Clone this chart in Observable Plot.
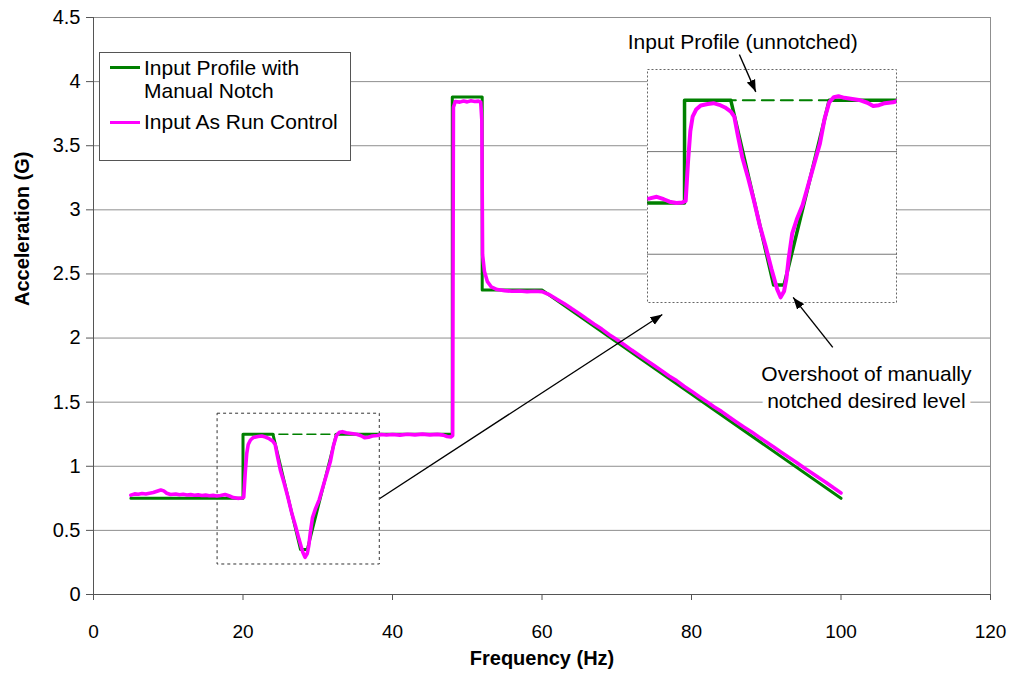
<!DOCTYPE html>
<html><head><meta charset="utf-8">
<script src="https://cdn.jsdelivr.net/npm/d3@7"></script>
<script src="https://cdn.jsdelivr.net/npm/@observablehq/plot@0.6"></script>
<style>
body{margin:0;background:#fff;}
#wrap{position:relative;width:1019px;height:675px;font-family:"Liberation Sans",Arial,sans-serif;color:#000;}
#wrap > svg{display:block;}
#inset{position:absolute;left:647px;top:69px;}
#overlay{position:absolute;left:0;top:0;pointer-events:none;}
#legend{position:absolute;left:99px;top:52px;width:252px;height:109px;border:1px solid #555;background:#fff;box-sizing:border-box;font-size:21px;}
#legend .sw{position:absolute;left:10px;width:30px;height:3px;}
#legend .lb{position:absolute;left:44px;line-height:23px;white-space:nowrap;}
</style></head><body><div id="wrap"></div>
<script>
// ---- data ----
const xTicks = [0, 20, 40, 60, 80, 100, 120];
const yTicks = [0, 0.5, 1, 1.5, 2, 2.5, 3, 3.5, 4, 4.5];

const profileFreq  = [5, 20, 20, 24, 27.7, 28.6, 32.5, 48, 48, 52, 52, 60, 100];
const profileAccel = [0.75, 0.75, 1.25, 1.25, 0.35, 0.35, 1.25, 1.25, 3.88, 3.88, 2.375, 2.375, 0.75];

const unnotchedFreq  = [24, 32.5];
const unnotchedAccel = [1.25, 1.25];

const runFreq = [5, 5.5, 6, 6.5, 7, 7.5, 8, 8.5, 9, 9.4, 9.8, 10.3, 11, 11.5, 12, 12.5, 13, 13.5, 14, 14.5, 15, 15.5, 16, 16.5, 17, 17.6, 18.2, 18.7, 19.3, 19.8,
  20.1, 20.3, 20.5, 20.7, 21.0, 21.4, 22.0, 22.5, 23.0, 23.5, 24.0, 24.3, 24.6, 25.0, 25.5, 26.0, 26.5, 27.0, 27.5, 28.0, 28.3, 28.6, 28.8, 29.0, 29.3, 29.7, 30.2, 30.7, 31.2, 31.7, 32.1, 32.5, 32.9, 33.3, 33.8, 34.5, 35.2, 35.8, 36.3, 36.8, 37.3, 38, 38.5, 39.2,
  40, 41, 42, 43, 44, 45, 46, 46.8, 47.3, 47.8, 48.05, 48.15, 48.4, 49, 49.5, 50, 50.5, 51, 51.5, 51.8, 51.95, 52.05, 52.3, 52.7, 53.2, 54, 55, 56, 57, 58, 59,
  60, 61, 62, 63, 64, 65, 66, 67, 68, 69, 70, 71, 72, 73, 74, 75, 76, 77, 78, 79, 80, 81, 82, 83, 84, 85, 86, 87, 88, 89, 90, 91, 92, 93, 94, 95, 96, 97, 98, 99, 100];
const runAccel = [0.775, 0.785, 0.782, 0.788, 0.784, 0.79, 0.795, 0.805, 0.815, 0.808, 0.79, 0.78, 0.784, 0.778, 0.782, 0.776, 0.779, 0.774, 0.777, 0.772, 0.775, 0.77, 0.773, 0.768, 0.772, 0.78, 0.768, 0.756, 0.75, 0.752,
  0.76, 0.95, 1.10, 1.17, 1.205, 1.225, 1.232, 1.236, 1.228, 1.215, 1.195, 1.17, 1.08, 0.97, 0.87, 0.76, 0.64, 0.54, 0.43, 0.33, 0.29, 0.32, 0.38, 0.48, 0.60, 0.67, 0.74, 0.84, 0.94, 1.04, 1.16, 1.24, 1.265, 1.27, 1.262, 1.256, 1.25, 1.238, 1.222, 1.226, 1.236, 1.24, 1.248, 1.244,
  1.248, 1.243, 1.25, 1.245, 1.251, 1.245, 1.249, 1.243, 1.232, 1.228, 1.24, 3.80, 3.845, 3.84, 3.848, 3.842, 3.85, 3.845, 3.848, 3.84, 3.7, 2.65, 2.52, 2.44, 2.40, 2.378, 2.37, 2.365, 2.367, 2.362, 2.365,
  2.362, 2.338, 2.302, 2.268, 2.228, 2.19, 2.148, 2.108, 2.07, 2.026, 1.988, 1.948, 1.906, 1.866, 1.826, 1.786, 1.746, 1.704, 1.668, 1.624, 1.586, 1.544, 1.506, 1.464, 1.428, 1.386, 1.346, 1.306, 1.27, 1.228, 1.19, 1.15, 1.11, 1.07, 1.032, 0.99, 0.952, 0.912, 0.874, 0.832, 0.792];

const seriesNames = ["Input Profile with\nManual Notch", "Input As Run Control"];
const seriesColors = ["#008000", "#ff00ff"];

// zoom region shown in the inset (data units)
const zoomBox = {x1: 16.6, x2: 38.3, y1: 0.234, y2: 1.41};
const insetDomainX = [16.8, 38.4];
const insetDomainY = [0.26, 1.40];
const insetGrid = [0.5, 1];

// annotations (data units)
const arrows = [
  {x1: 38.3, y1: 0.749, x2: 76.1, y2: 2.184},
  {x1: 86.4, y1: 4.212, x2: 88.6, y2: 3.92},
  {x1: 98.9, y1: 1.927, x2: 93.6, y2: 2.317}
];
const notes = [
  {x: 86.85, y: 4.32, text: "Input Profile (unnotched)"},
  {x: 103.4, y: 1.625, text: "Overshoot of manually\nnotched desired level"}
];

// ---- build ----
const profile = profileFreq.map((f, i) => ({f, a: profileAccel[i]}));
const unnotched = unnotchedFreq.map((f, i) => ({f, a: unnotchedAccel[i]}));
const run = runFreq.map((f, i) => ({f, a: runAccel[i]}));

function arrowHead(color) {
  const ns = "http://www.w3.org/2000/svg";
  const m = document.createElementNS(ns, "marker");
  m.setAttribute("viewBox", "-12 -5 12 10");
  m.setAttribute("markerWidth", 12);
  m.setAttribute("markerHeight", 10);
  m.setAttribute("markerUnits", "userSpaceOnUse");
  m.setAttribute("refX", 0);
  m.setAttribute("refY", 0);
  m.setAttribute("orient", "auto");
  const p = document.createElementNS(ns, "path");
  p.setAttribute("d", "M-12,-4.5L0,0L-12,4.5Z");
  p.setAttribute("fill", color);
  p.setAttribute("stroke", "none");
  m.appendChild(p);
  return m;
}

const font = '"Liberation Sans", Arial, sans-serif';
const gridColor = "#8f8f8f";
const axisColor = "#555";
const frameOpts = {
  width: 1019, height: 675,
  marginLeft: 93, marginRight: 29, marginTop: 17, marginBottom: 81,
  x: {domain: [0, 120], axis: null},
  y: {domain: [0, 4.5], axis: null}
};

const main = Plot.plot({
  ...frameOpts,
  style: {fontFamily: font, fontSize: "20px", color: "#000", background: "#fff", overflow: "visible"},
  marks: [
    Plot.ruleY(yTicks.filter(d => d > 0), {stroke: gridColor, strokeOpacity: 1}),
    Plot.ruleX([120], {stroke: gridColor, strokeOpacity: 1}),
    Plot.rect([zoomBox], {x1: "x1", x2: "x2", y1: "y1", y2: "y2", fill: "none", stroke: "#333", strokeDasharray: "3,3", strokeWidth: 1}),
    Plot.line(unnotched, {x: "f", y: "a", stroke: seriesColors[0], strokeWidth: 1.5, strokeDasharray: "9,5", strokeDashoffset: -6}),
    Plot.line(profile, {x: "f", y: "a", stroke: seriesColors[0], strokeWidth: 3}),
    Plot.line(run, {x: "f", y: "a", stroke: seriesColors[1], strokeWidth: 3.6}),
    Plot.axisY({ticks: yTicks, tickSize: 7, tickPadding: 6, tickFormat: d => String(d), label: null, fontSize: 20, stroke: axisColor}),
    Plot.axisX({ticks: xTicks, tickSize: 6, tickPadding: 24, tickFormat: d => String(d), label: null, fontSize: 19, stroke: axisColor}),
    Plot.ruleX([0], {stroke: axisColor, strokeOpacity: 1}),
    Plot.ruleY([0], {stroke: axisColor, strokeOpacity: 1}),
    Plot.text(["Frequency (Hz)"], {frameAnchor: "bottom", dy: 70, fontWeight: "bold", fontSize: 20}),
    Plot.text(["Acceleration (G)"], {frameAnchor: "left", dx: -71, rotate: -90, fontWeight: "bold", fontSize: 20})
  ]
});

const inset = Plot.plot({
  width: 250, height: 234, margin: 0,
  x: {domain: insetDomainX, axis: null},
  y: {domain: insetDomainY, axis: null},
  style: {background: "#fff", overflow: "hidden"},
  marks: [
    Plot.ruleY(insetGrid, {stroke: "#777", strokeOpacity: 1}),
    Plot.line(unnotched, {x: "f", y: "a", stroke: seriesColors[0], strokeWidth: 2, strokeDasharray: "12,7", strokeDashoffset: -12, clip: true}),
    Plot.line(profile, {x: "f", y: "a", stroke: seriesColors[0], strokeWidth: 3.5, clip: true}),
    Plot.line(run, {x: "f", y: "a", stroke: seriesColors[1], strokeWidth: 4, clip: true}),
    Plot.frame({stroke: "#666", strokeDasharray: "2,2", strokeWidth: 1, insetRight: 1, insetBottom: 1})
  ]
});
inset.id = "inset";

const overlay = Plot.plot({
  ...frameOpts,
  style: {fontFamily: font, background: "transparent", overflow: "visible"},
  marks: [
    Plot.link(arrows, {x1: "x1", y1: "y1", x2: "x2", y2: "y2", stroke: "#000", strokeWidth: 1.4, markerEnd: arrowHead}),
    Plot.text(notes, {x: "x", y: "y", text: "text", fontSize: 21, lineHeight: 1.27, fill: "#000", stroke: "#fff", strokeWidth: 12})
  ]
});
overlay.id = "overlay";

const wrap = document.getElementById("wrap");
wrap.appendChild(main);
wrap.appendChild(inset);
wrap.appendChild(overlay);

const legend = document.createElement("div");
legend.id = "legend";
legend.innerHTML =
  `<div class="sw" style="top:13px;background:${seriesColors[0]}"></div>` +
  `<div class="lb" style="top:3px">${seriesNames[0].replace("\n", "<br>")}</div>` +
  `<div class="sw" style="top:68px;background:${seriesColors[1]}"></div>` +
  `<div class="lb" style="top:57px">${seriesNames[1]}</div>`;
wrap.appendChild(legend);
</script>
</body></html>
